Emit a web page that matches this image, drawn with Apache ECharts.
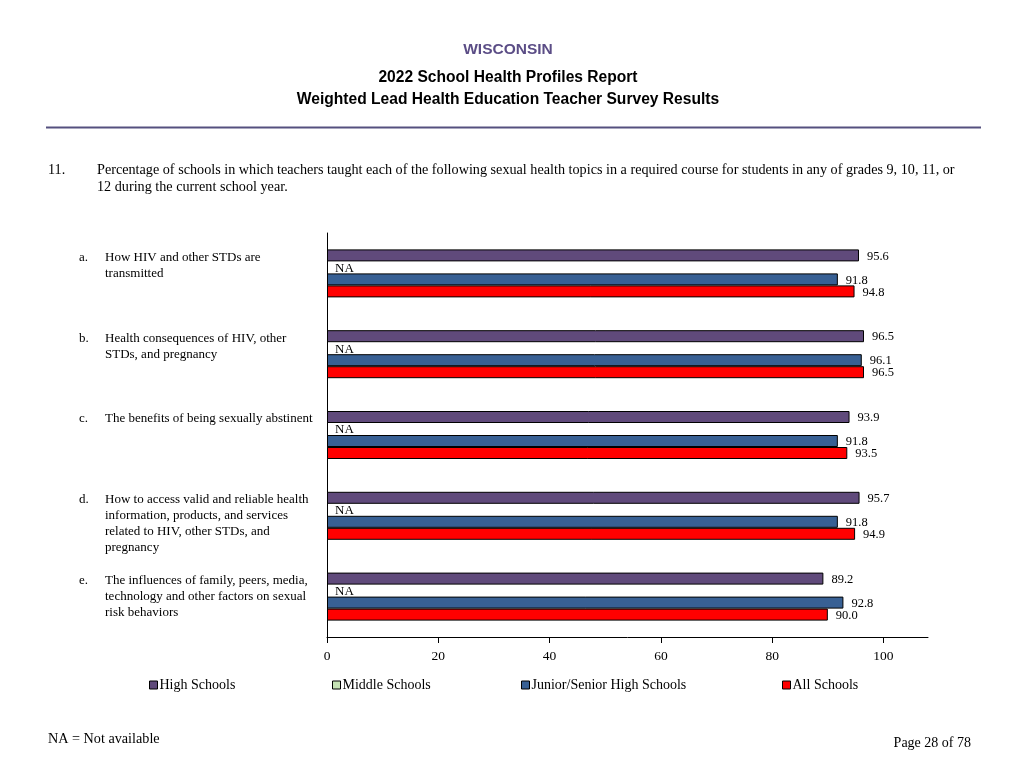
<!DOCTYPE html>
<html><head><meta charset="utf-8">
<script src="https://cdn.jsdelivr.net/npm/echarts@6/dist/echarts.min.js"></script>
<style>html,body{margin:0;padding:0;background:#fff}#c{width:1024px;height:768px}</style>
</head><body><div id="c"></div>
<script>
const categories = ['a', 'b', 'c', 'd', 'e'];
const categoryLetters = ['a.', 'b.', 'c.', 'd.', 'e.'];
const categoryLabels = [
  'How HIV and other STDs are\ntransmitted',
  'Health consequences of HIV, other\nSTDs, and pregnancy',
  'The benefits of being sexually abstinent',
  'How to access valid and reliable health\ninformation, products, and services\nrelated to HIV, other STDs, and\npregnancy',
  'The influences of family, peers, media,\ntechnology and other factors on sexual\nrisk behaviors'
];
const seriesNames = ['High Schools', 'Middle Schools', 'Junior/Senior High Schools', 'All Schools'];
const highSchools = [95.6, 96.5, 93.9, 95.7, 89.2];
const middleSchools = [null, null, null, null, null]; // NA = Not available
const juniorSenior = [91.8, 96.1, 91.8, 91.8, 92.8];
const allSchools = [94.8, 96.5, 93.5, 94.9, 90.0];
const xTicks = [0, 20, 40, 60, 80, 100];

const SERIF = '"Liberation Serif", "Times New Roman", serif';
const SANS = '"Liberation Sans", Arial, sans-serif';
const colors = ['#604a7b', '#c6e3b5', '#386094', '#ff0000'];

const chart = echarts.init(document.getElementById('c'), null, {renderer: 'canvas'});

function barSeries(name, data, color) {
  const isNA = data.every(v => v === null);
  return {
    name: name,
    type: 'bar',
    barWidth: 12,
    barGap: '0%',
    data: data.map(v => v === null ? {value: 0, label: {formatter: 'NA', distance: 8, offset: [0, 1], fontSize: 13}} : v),
    itemStyle: {color: color, borderColor: '#000', borderWidth: isNA ? 0 : 1},
    label: {
      show: true, position: 'right', distance: 8,
      fontFamily: SERIF, fontSize: 12.5, color: '#000',
      formatter: p => (typeof p.value === 'number' ? p.value.toFixed(1) : p.value),
      offset: [0, 1]
    },
    emphasis: {disabled: true},
    animation: false
  };
}

const legendLefts = [149, 332, 521, 782];

const option = {
  animation: false,
  grid: {left: 327, top: 233, width: 601, height: 404, containLabel: false},
  xAxis: {
    type: 'value', min: 0, max: 108, interval: 20,
    axisLine: {show: true, lineStyle: {color: '#000', width: 1}},
    axisTick: {show: true, length: 6, lineStyle: {color: '#000'}, customValues: xTicks},
    axisLabel: {customValues: xTicks, margin: 12, fontFamily: SERIF, fontSize: 13.5, color: '#000'},
    splitLine: {show: false}
  },
  yAxis: {
    type: 'category', data: categories, inverse: true,
    axisLine: {show: true, lineStyle: {color: '#000', width: 1}},
    axisTick: {show: false},
    axisLabel: {show: false},
    splitLine: {show: false}
  },
  legend: seriesNames.map((n, i) => ({
    data: [{name: n, itemStyle: {color: colors[i], borderColor: '#000', borderWidth: 1}}],
    left: legendLefts[i], top: 678, padding: 0,
    icon: 'rect', itemWidth: 8, itemHeight: 8,
    selectedMode: false,
    textStyle: {fontFamily: SERIF, fontSize: 14, color: '#000', padding: [0, 0, 0, -3]}
  })),
  series: [
    barSeries(seriesNames[0], highSchools, colors[0]),
    barSeries(seriesNames[1], middleSchools, colors[1]),
    barSeries(seriesNames[2], juniorSenior, colors[2]),
    barSeries(seriesNames[3], allSchools, colors[3])
  ]
};
chart.setOption(option);

const graphics = [
  {type: 'text', x: 508, y: 50, style: {text: 'WISCONSIN', font: 'bold 15.5px ' + SANS, fill: '#5b4d86', align: 'center', verticalAlign: 'middle'}},
  {type: 'text', x: 508, y: 78, style: {text: '2022 School Health Profiles Report', font: 'bold 15.6px ' + SANS, fill: '#000', align: 'center', verticalAlign: 'middle'}},
  {type: 'text', x: 508, y: 100, style: {text: 'Weighted Lead Health Education Teacher Survey Results', font: 'bold 15.6px ' + SANS, fill: '#000', align: 'center', verticalAlign: 'middle'}},
  {type: 'line', shape: {x1: 46, y1: 127.5, x2: 981, y2: 127.5}, style: {stroke: '#55507f', lineWidth: 2}},
  {type: 'text', x: 48, y: 162, style: {text: '11.', font: '14.2px ' + SERIF, fill: '#000', align: 'left', verticalAlign: 'top', lineHeight: 17}},
  {type: 'text', x: 97, y: 162, style: {text: 'Percentage of schools in which teachers taught each of the following sexual health topics in a required course for students in any of grades 9, 10, 11, or\n12 during the current school year.', font: '14.2px ' + SERIF, fill: '#000', align: 'left', verticalAlign: 'top', lineHeight: 17}},
  {type: 'text', x: 48, y: 739, style: {text: 'NA = Not available', font: '14.2px ' + SERIF, fill: '#000', align: 'left', verticalAlign: 'middle'}},
  {type: 'text', x: 971, y: 743, style: {text: 'Page 28 of 78', font: '14px ' + SERIF, fill: '#000', align: 'right', verticalAlign: 'middle'}}
];

categories.forEach((c, i) => {
  const yc = chart.convertToPixel({yAxisIndex: 0}, c);
  const top = yc - 24;
  graphics.push({type: 'text', x: 79, y: top, style: {text: categoryLetters[i], font: '13px ' + SERIF, fill: '#000', align: 'left', verticalAlign: 'top', lineHeight: 16}});
  graphics.push({type: 'text', x: 105, y: top, style: {text: categoryLabels[i], font: '13px ' + SERIF, fill: '#000', align: 'left', verticalAlign: 'top', lineHeight: 16}});
});

chart.setOption({graphic: graphics});
</script></body></html>
